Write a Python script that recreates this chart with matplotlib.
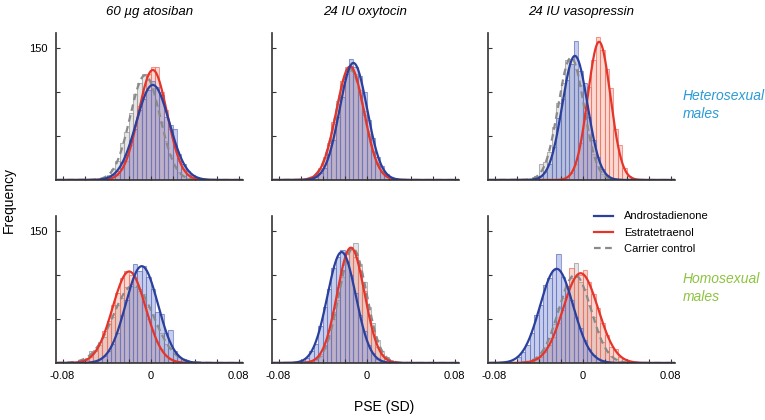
import numpy as np
import matplotlib
matplotlib.use("Agg")
import matplotlib.pyplot as plt
from matplotlib.lines import Line2D

plt.rcParams['font.family'] = ['Liberation Sans', 'DejaVu Sans']

BLUE = '#2b3f9c'
RED = '#e5352b'
GREY = '#8a8a8a'
HETERO_COLOR = '#2a9ad6'
HOMO_COLOR = '#8cc43f'

drugs = ['60 \u00b5g atosiban', '24 IU oxytocin', '24 IU vasopressin']
groups = ['Heterosexual\nmales', 'Homosexual\nmales']
series_names = ['Androstadienone', 'Estratetraenol', 'Carrier control']

# histogram bins (PSE, SD units), 30 bins of 0.004
bin_edges = np.round(np.linspace(-0.06, 0.06, 31), 4)

# counts per bin, [row][col]
blue_counts = [
    [[0, 0, 0, 1, 2, 3, 6, 10, 20, 28, 46, 58, 80, 92, 102, 112, 106, 96, 72, 62, 58, 30, 18, 10, 6, 3, 1, 0, 0, 0],
     [0, 0, 1, 3, 8, 14, 30, 46, 72, 94, 120, 138, 128, 118, 100, 68, 48, 26, 16, 7, 3, 1, 0, 0, 0, 0, 0, 0, 0, 0],
     [0, 0, 0, 0, 1, 4, 9, 18, 38, 70, 92, 114, 132, 158, 124, 110, 72, 46, 26, 13, 6, 2, 1, 0, 0, 0, 0, 0, 0, 0]],
    [[0, 1, 2, 4, 8, 14, 22, 34, 54, 72, 88, 112, 104, 110, 98, 84, 58, 56, 34, 38, 14, 7, 4, 2, 1, 0, 0, 0, 0, 0],
     [2, 6, 14, 22, 42, 64, 84, 108, 120, 128, 116, 100, 80, 54, 36, 20, 11, 5, 2, 1, 0, 0, 0, 0, 0, 0, 0, 0, 0, 0],
     [7, 12, 20, 34, 55, 66, 89, 96, 106, 124, 98, 88, 72, 52, 40, 26, 16, 9, 5, 2, 1, 0, 0, 0, 0, 0, 0, 0, 0, 0]],
]
red_counts = [
    [[0, 0, 0, 0, 0, 1, 3, 6, 12, 22, 40, 58, 84, 100, 120, 128, 128, 100, 80, 58, 40, 22, 12, 6, 3, 1, 0, 0, 0, 0],
     [0, 1, 3, 6, 12, 25, 40, 66, 86, 112, 124, 130, 118, 102, 74, 52, 32, 18, 9, 4, 2, 0, 0, 0, 0, 0, 0, 0, 0, 0],
     [0, 0, 0, 0, 0, 0, 0, 0, 0, 0, 1, 3, 8, 18, 42, 70, 106, 136, 162, 148, 126, 104, 58, 40, 14, 5, 2, 0, 0, 0]],
    [[3, 7, 14, 20, 36, 48, 66, 80, 96, 104, 100, 98, 84, 70, 50, 38, 24, 16, 8, 4, 2, 1, 0, 0, 0, 0, 0, 0, 0, 0],
     [0, 1, 2, 5, 10, 20, 38, 58, 86, 106, 126, 132, 120, 106, 82, 54, 36, 18, 10, 4, 2, 1, 0, 0, 0, 0, 0, 0, 0, 0],
     [0, 0, 0, 2, 4, 7, 13, 20, 30, 46, 60, 78, 108, 98, 100, 106, 92, 78, 62, 46, 32, 18, 16, 7, 5, 2, 1, 0, 0, 0]],
]
grey_counts = [
    [[0, 0, 1, 1, 3, 6, 12, 22, 42, 54, 76, 98, 110, 120, 114, 104, 84, 66, 44, 28, 16, 9, 4, 2, 1, 0, 0, 0, 0, 0],
     [0, 1, 3, 7, 14, 26, 42, 64, 90, 108, 128, 124, 120, 96, 78, 50, 33, 18, 10, 4, 2, 1, 0, 0, 0, 0, 0, 0, 0, 0],
     [0, 0, 0, 1, 5, 18, 20, 32, 60, 88, 110, 136, 138, 126, 108, 76, 52, 30, 16, 7, 3, 1, 0, 0, 0, 0, 0, 0, 0, 0]],
    [[6, 14, 15, 24, 30, 44, 52, 66, 74, 86, 90, 86, 82, 78, 64, 56, 42, 34, 22, 17, 10, 7, 4, 2, 1, 0, 0, 0, 0, 0],
     [0, 0, 1, 4, 8, 17, 28, 50, 72, 98, 116, 130, 136, 112, 92, 64, 46, 26, 14, 7, 3, 1, 0, 0, 0, 0, 0, 0, 0, 0],
     [0, 1, 1, 3, 6, 11, 18, 28, 44, 62, 74, 88, 96, 114, 92, 84, 66, 52, 36, 24, 14, 8, 4, 2, 1, 0, 0, 0, 0, 0]],
]

# gaussian fits: (mean, sd, peak height)
blue_fit = [
    [(0.002, 0.015, 108), (-0.012, 0.0125, 133), (-0.007, 0.0115, 141)],
    [(-0.008, 0.0147, 110), (-0.0227, 0.0129, 126), (-0.0236, 0.0151, 107)],
]
red_fit = [
    [(0.002, 0.013, 125), (-0.015, 0.0126, 129), (0.015, 0.0103, 157)],
    [(-0.0195, 0.015, 104), (-0.0143, 0.0124, 131), (-0.0018, 0.0159, 102)],
]
grey_fit = [
    [(-0.005, 0.0136, 119), (-0.015, 0.0128, 126), (-0.0105, 0.0117, 139)],
    [(-0.0158, 0.0184, 88), (-0.0125, 0.0125, 130), (-0.007, 0.0147, 100)],
]

x_ticks = [-0.08, -0.06, -0.04, -0.02, 0, 0.02, 0.04, 0.06, 0.08]
x_ticklabels = ['-0.08', '', '', '', '0', '', '', '', '0.08']
y_ticks = [50, 100, 150]


def gauss(x, fit):
    mu, sd, peak = fit
    return peak * np.exp(-0.5 * ((x - mu) / sd) ** 2)


def draw_hist(ax, counts, fill, edge, fill_alpha):
    width = bin_edges[1] - bin_edges[0]
    ax.bar(bin_edges[:-1], counts, width=width, align='edge',
           color=fill, alpha=fill_alpha, edgecolor='none', zorder=1)
    ax.bar(bin_edges[:-1], counts, width=width, align='edge',
           facecolor='none', edgecolor=edge, alpha=0.7, linewidth=0.75, zorder=1.5)


fig = plt.figure(figsize=(7.65, 4.2), dpi=100)

col_left = [56 / 765, 272 / 765, 488 / 765]
ax_w = 187 / 765
row_bottom = [1 - 180 / 420, 1 - 363 / 420]
ax_h = 147 / 420

xs = np.linspace(-0.086, 0.084, 400)

for r in range(2):
    for c in range(3):
        ax = fig.add_axes([col_left[c], row_bottom[r], ax_w, ax_h])
        draw_hist(ax, grey_counts[r][c], '#b8b8b8', '#9a9a9a', 0.35)
        draw_hist(ax, red_counts[r][c], '#f4907e', '#ee7462', 0.35)
        draw_hist(ax, blue_counts[r][c], '#8494d6', '#6677c4', 0.45)

        ax.plot(xs, gauss(xs, grey_fit[r][c]), color=GREY, lw=1.6, ls=(0, (3, 2)), zorder=3)
        ax.plot(xs, gauss(xs, red_fit[r][c]), color=RED, lw=1.6, zorder=4)
        ax.plot(xs, gauss(xs, blue_fit[r][c]), color=BLUE, lw=1.6, zorder=5)

        ax.set_xlim(-0.086, 0.084)
        ax.set_ylim(0, 167)
        for side in ['top', 'right']:
            ax.spines[side].set_visible(False)
        for side in ['left', 'bottom']:
            ax.spines[side].set_color('#333333')
            ax.spines[side].set_linewidth(1.2)
        ax.spines['bottom'].set_zorder(6)

        ax.set_xticks(x_ticks)
        ax.set_yticks(y_ticks)
        ax.tick_params(direction='in', length=3, width=0.8, color='#333333',
                       labelsize=8, pad=6)
        if r == 1:
            ax.set_xticklabels(x_ticklabels)
        else:
            ax.set_xticklabels([])
        if c == 0:
            ax.set_yticklabels(['', '', '150'])
        else:
            ax.set_yticklabels([])

        if r == 0:
            ax.set_title(drugs[c], fontsize=9.5, style='italic', pad=13)

        if r == 1 and c == 2:
            handles = [Line2D([], [], color=BLUE, lw=1.6),
                       Line2D([], [], color=RED, lw=1.6),
                       Line2D([], [], color=GREY, lw=1.6, ls=(0, (3, 2)))]
            ax.legend(handles, series_names, loc='upper left',
                      bbox_to_anchor=(590 / 765, 1 - 207 / 420),
                      bbox_transform=fig.transFigure, frameon=False, fontsize=8,
                      handlelength=1.7, handletextpad=1.0, labelspacing=0.55,
                      borderaxespad=0)

fig.text(683 / 765, 1 - 105 / 420, groups[0], color=HETERO_COLOR, style='italic',
         fontsize=10, ha='left', va='center', linespacing=1.3)
fig.text(683 / 765, 1 - 288 / 420, groups[1], color=HOMO_COLOR, style='italic',
         fontsize=10, ha='left', va='center', linespacing=1.3)

fig.text(9 / 765, 1 - 200 / 420, 'Frequency', rotation=90, fontsize=10,
         ha='center', va='center')
fig.text(384 / 765, 1 - 407 / 420, 'PSE (SD)', fontsize=10, ha='center', va='center')

fig.savefig('out.png', dpi=100)
